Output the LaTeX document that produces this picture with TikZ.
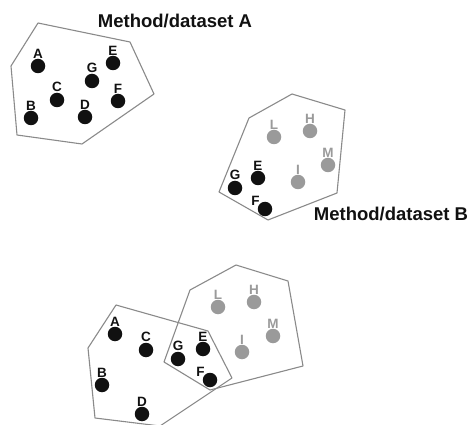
\documentclass[tikz,border=0pt]{standalone}
\usepackage{fontspec}
\setmainfont{Liberation Sans}
\definecolor{dotblack}{HTML}{111111}
\definecolor{dotgray}{HTML}{9A9A9A}
\definecolor{linegray}{HTML}{8A8A8A}
\begin{document}
\begin{tikzpicture}[x=1pt,y=-1pt,
  bdot/.style={circle,fill=dotblack,minimum size=14.5pt,inner sep=0pt,
    label={[lblb,label distance=0.3pt]above:#1}},
  gdot/.style={circle,fill=dotgray,minimum size=14.5pt,inner sep=0pt,
    label={[lblg,label distance=0.3pt]above:#1}},
  bdotl/.style={circle,fill=dotblack,minimum size=14.5pt,inner sep=0pt,
    label={[lblb,label distance=-1pt]145:#1}},
  lblb/.style={font=\bfseries\fontsize{13.5}{13.5}\selectfont,text=dotblack,inner sep=0pt},
  lblg/.style={font=\bfseries\fontsize{13.5}{13.5}\selectfont,text=dotgray,inner sep=0pt},
  hull/.style={draw=linegray,line width=1.1pt,line join=round},
  title/.style={font=\bfseries\fontsize{18.5}{19}\selectfont,text=dotblack,inner sep=0pt,anchor=base}
]
\useasboundingbox (0,0) rectangle (469,425);
\clip (0,0) rectangle (469,425);

% Panel A
\draw[hull] (38,23) -- (130,42) -- (154,94) -- (82,144) -- (17,135) -- (11,66) -- cycle;
\node[bdot=A] (a1) at (38,66) {};
\node[bdot=E] (e1) at (113,63) {};
\node[bdot=G] (g1) at (92,81) {};
\node[bdot=C] (c1) at (57,100) {};
\node[bdot=F] (f1) at (118,101) {};
\node[bdot=B] (b1) at (31,118) {};
\node[bdot=D] (d1) at (85,117) {};
\node[title] (ta) at (175,28) {Method/dataset A};

% Panel B
\draw[hull] (292,94) -- (345,110) -- (337,193) -- (268,220) -- (219,192) -- (249,118) -- cycle;
\node[gdot=L] (l2) at (274,137) {};
\node[gdot=H] (h2) at (310,131) {};
\node[gdot=M] (m2) at (328,165) {};
\node[gdot=I] (i2) at (298,182) {};
\node[bdot=E] (e2) at (258,178) {};
\node[bdot=G] (g2) at (235,188) {};
\node[bdotl=F] (f2) at (265,209) {};
\node[title] (tb) at (391,221) {Method/dataset B};

% Panel C
\draw[hull] (116,305) -- (208,331) -- (232,378) -- (160,426) -- (95,418) -- (88,348) -- cycle;
\draw[hull] (236,265) -- (288,281) -- (303,366) -- (210,390) -- (164,362) -- (190,290) -- cycle;
\node[bdot=A] (a3) at (115,334) {};
\node[bdot=C] (c3) at (146,350) {};
\node[bdot=B] (b3) at (102,385) {};
\node[bdot=D] (d3) at (142,414) {};
\node[bdot=G] (g3) at (178,359) {};
\node[bdot=E] (e3) at (203,349) {};
\node[bdotl=F] (f3) at (210,380) {};
\node[gdot=L] (l3) at (218,307) {};
\node[gdot=H] (h3) at (254,302) {};
\node[gdot=M] (m3) at (273,336) {};
\node[gdot=I] (i3) at (242,352) {};
\end{tikzpicture}
\end{document}
